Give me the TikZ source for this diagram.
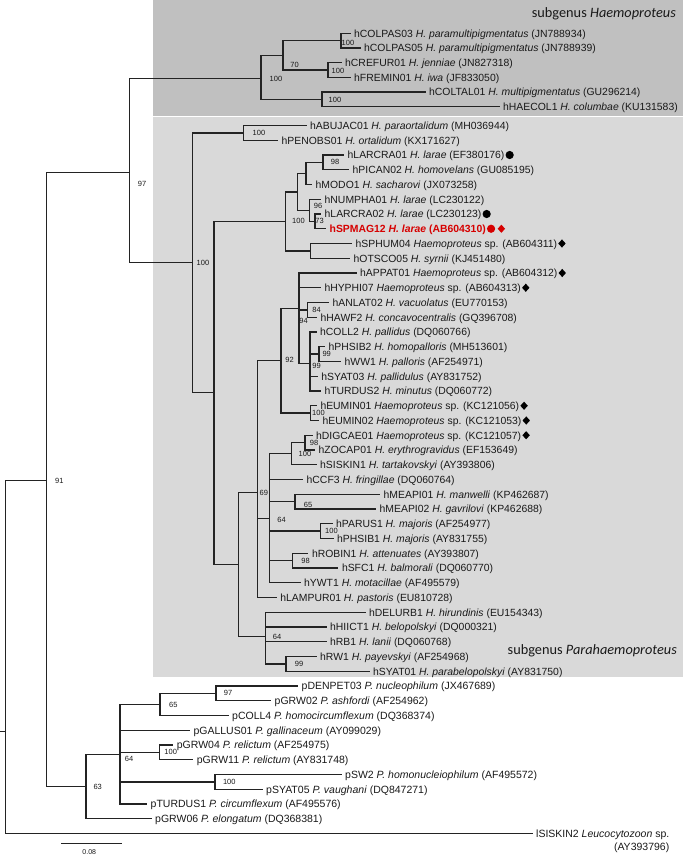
\documentclass[tikz,border=0pt]{standalone}
\usepackage{fontspec}
\setmainfont{Liberation Sans}
\newfontfamily\carlito{Carlito}
\usetikzlibrary{calc}
\definecolor{boxdark}{RGB}{192,192,192}
\definecolor{boxlight}{RGB}{217,217,217}
\definecolor{treeline}{RGB}{35,35,35}
\definecolor{labtext}{RGB}{25,25,25}
\definecolor{hlred}{RGB}{214,0,0}
\tikzset{
  leaf/.style={anchor=west, inner xsep=3.5pt, inner ysep=0pt, text height=7.5pt, text depth=0pt, font=\fontsize{10.4}{12}\selectfont, text=labtext},
  pleaf/.style={leaf, font=\fontsize{10.5}{12}\selectfont},
  bs/.style={inner sep=0pt, text height=5.4pt, text depth=0pt, font=\fontsize{7.5}{9}\selectfont, text=labtext},
  br/.style={draw=treeline, line width=1.3pt},
  bb/.style={draw=treeline, line width=1.0pt},
  subg/.style={font=\carlito\fontsize{14.3}{16}\selectfont, anchor=base east, inner sep=0pt, text=labtext},
}
\newcommand\dotm[3]{\fill[#1] ([xshift=#3]#2.east) circle (4.1);}
\newcommand\diam[3]{\fill[#1] ([xshift=#3]#2.east) +(0,-4.1) -- +(3.7,0) -- +(0,4.1) -- +(-3.7,0) -- cycle;}
\begin{document}
\begin{tikzpicture}[x=1pt,y=-1pt]
\useasboundingbox (0,0) rectangle (685,856);
% shaded boxes
\fill[boxdark] (153,0) rectangle (683,116);
\fill[boxlight] (153,117.3) rectangle (683,677);
\node[subg] (subH) at (676,18) {subgenus \textit{Haemoproteus}};
\node[subg] (subP) at (677,654) {subgenus \textit{Parahaemoproteus}};

% internal nodes
\coordinate (rootin) at (0,731);
\coordinate (root) at (5,731);
\coordinate (n91) at (46,480);
\coordinate (n97) at (129,172);
\coordinate (hroot) at (261,79);
\coordinate (h70) at (283,55.3);
\coordinate (hcolpas) at (341,40.6);
\coordinate (hcrefur) at (328,70);
\coordinate (hcoltal) at (322,99.4);
\coordinate (p100) at (192.3,262.8);
\coordinate (pabu) at (243.3,132.9);
\coordinate (x214) at (214,392.8);
\coordinate (l100) at (285.5,221.4);
\coordinate (n299) at (297.5,191.9);
\coordinate (nmodo) at (306,173.4);
\coordinate (n98a) at (323,162.4);
\coordinate (n96) at (309.5,210.3);
\coordinate (n73) at (315,221.4);
\coordinate (nsphum) at (310.7,250.9);
\coordinate (p238) at (238.3,564.2);
\coordinate (n257) at (257.3,492.2);
\coordinate (n92) at (281,360.8);
\coordinate (n94) at (299,308.5);
\coordinate (n84) at (307.3,309.9);
\coordinate (n99a) at (310,363.3);
\coordinate (n99b) at (319,354.1);
\coordinate (neumin) at (310.7,413.1);
\coordinate (n269) at (269.3,518.2);
\coordinate (nd100) at (291.5,453.7);
\coordinate (nd98) at (305,442.6);
\coordinate (nm65) at (295,501.6);
\coordinate (npa100) at (320.7,531.1);
\coordinate (nr98) at (292.3,560.6);
\coordinate (nd64) at (265.7,636.2);
\coordinate (nrw99) at (286,663.9);
\coordinate (p63) at (86,786.7);
\coordinate (p64) at (120,754.6);
\coordinate (p65) at (160,704.4);
\coordinate (p97) at (216,693.4);
\coordinate (pg100) at (159.3,752.4);
\coordinate (ps100) at (215,781.9);

% leaves: Haemoproteus
\node[leaf] (COLPAS03) at (350.5,33.3) {hCOLPAS03 \textit{H. paramultipigmentatus} (JN788934)};
\node[leaf] (COLPAS05) at (360.5,47.9) {hCOLPAS05 \textit{H. paramultipigmentatus} (JN788939)};
\node[leaf] (CREFUR01) at (341.5,62.6) {hCREFUR01 \textit{H. jenniae} (JN827318)};
\node[leaf] (FREMIN01) at (350.5,77.3) {hFREMIN01 \textit{H. iwa} (JF833050)};
\node[leaf] (COLTAL01) at (425.5,92.0) {hCOLTAL01 \textit{H. multipigmentatus} (GU296214)};
\node[leaf] (HAECOL1) at (499.5,106.7) {hHAECOL1 \textit{H. columbae} (KU131583)};
% leaves: Parahaemoproteus box
\node[leaf] (ABUJAC01) at (306.5,125.5) {hABUJAC01 \textit{H. paraortalidum} (MH036944)};
\node[leaf] (PENOBS01) at (278,140.25) {hPENOBS01 \textit{H. ortalidum} (KX171627)};
\node[leaf] (LARCRA01) at (344,155) {hLARCRA01 \textit{H. larae} (EF380176)};
\node[leaf] (PICAN02) at (349,169.75) {hPICAN02 \textit{H. homovelans} (GU085195)};
\node[leaf] (MODO1) at (312,184.5) {hMODO1 \textit{H. sacharovi} (JX073258)};
\node[leaf] (NUMPHA01) at (321,199.25) {hNUMPHA01 \textit{H. larae} (LC230122)};
\node[leaf] (LARCRA02) at (321,214) {hLARCRA02 \textit{H. larae} (LC230123)};
\node[leaf, text=hlred] (SPMAG12) at (326,228.75) {\bfseries hSPMAG12 \textit{H. larae} (AB604310)};
\node[leaf] (SPHUM04) at (352,243.5) {hSPHUM04 \textit{Haemoproteus} sp. (AB604311)};
\node[leaf] (OTSCO05) at (350,258.25) {hOTSCO05 \textit{H. syrnii} (KJ451480)};
\node[leaf] (APPAT01) at (356.5,273) {hAPPAT01 \textit{Haemoproteus} sp. (AB604312)};
\node[leaf] (HYPHI07) at (320.8,287.75) {hHYPHI07 \textit{Haemoproteus} sp. (AB604313)};
\node[leaf] (ANLAT02) at (329,302.5) {hANLAT02 \textit{H. vacuolatus} (EU770153)};
\node[leaf] (HAWF2) at (317,317.25) {hHAWF2 \textit{H. concavocentralis} (GQ396708)};
\node[leaf] (COLL2) at (316.5,332) {hCOLL2 \textit{H. pallidus} (DQ060766)};
\node[leaf] (PHSIB2) at (325,346.75) {hPHSIB2 \textit{H. homopalloris} (MH513601)};
\node[leaf] (WW1) at (341,361.5) {hWW1 \textit{H. palloris} (AF254971)};
\node[leaf] (SYAT03) at (317.7,376.25) {hSYAT03 \textit{H. pallidulus} (AY831752)};
\node[leaf] (TURDUS2) at (320.8,391) {hTURDUS2 \textit{H. minutus} (DQ060772)};
\node[leaf] (EUMIN01) at (316.8,405.75) {hEUMIN01 \textit{Haemoproteus} sp. (KC121056)};
\node[leaf] (EUMIN02) at (319,420.5) {hEUMIN02 \textit{Haemoproteus} sp. (KC121053)};
\node[leaf] (DIGCAE01) at (312.5,435.25) {hDIGCAE01 \textit{Haemoproteus} sp. (KC121057)};
\node[leaf] (ZOCAP01) at (315,450) {hZOCAP01 \textit{H. erythrogravidus} (EF153649)};
\node[leaf] (SISKIN1) at (316.5,464.75) {hSISKIN1 \textit{H. tartakovskyi} (AY393806)};
\node[leaf] (CCF3) at (303,479.5) {hCCF3 \textit{H. fringillae} (DQ060764)};
\node[leaf] (MEAPI01) at (380,494.25) {hMEAPI01 \textit{H. manwelli} (KP462687)};
\node[leaf] (MEAPI02) at (376,509) {hMEAPI02 \textit{H. gavrilovi} (KP462688)};
\node[leaf] (PARUS1) at (332.5,523.75) {hPARUS1 \textit{H. majoris} (AF254977)};
\node[leaf] (PHSIB1) at (333.5,538.5) {hPHSIB1 \textit{H. majoris} (AY831755)};
\node[leaf] (ROBIN1) at (308.3,553.25) {hROBIN1 \textit{H. attenuates} (AY393807)};
\node[leaf] (SFC1) at (338.3,568) {hSFC1 \textit{H. balmorali} (DQ060770)};
\node[leaf] (YWT1) at (300.5,582.75) {hYWT1 \textit{H. motacillae} (AF495579)};
\node[leaf] (LAMPUR01) at (276.7,597.5) {hLAMPUR01 \textit{H. pastoris} (EU810728)};
\node[leaf] (DELURB1) at (365.5,612.25) {hDELURB1 \textit{H. hirundinis} (EU154343)};
\node[leaf] (HIICT1) at (326.5,627) {hHIICT1 \textit{H. belopolskyi} (DQ000321)};
\node[leaf] (RB1) at (326.5,641.75) {hRB1 \textit{H. lanii} (DQ060768)};
\node[leaf] (RW1) at (316.5,656.5) {hRW1 \textit{H. payevskyi} (AF254968)};
\node[leaf] (SYAT01) at (369.5,671.25) {hSYAT01 \textit{H. parabelopolskyi} (AY831750)};
% leaves: Plasmodium and outgroup
\node[pleaf] (DENPET03) at (298,686) {pDENPET03 \textit{P. nucleophilum} (JX467689)};
\node[pleaf] (GRW02) at (271,700.75) {pGRW02 \textit{P. ashfordi} (AF254962)};
\node[pleaf] (COLL4) at (228.5,715.5) {pCOLL4 \textit{P. homocircumflexum} (DQ368374)};
\node[pleaf] (GALLUS01) at (189.8,730.25) {pGALLUS01 \textit{P. gallinaceum} (AY099029)};
\node[pleaf] (GRW04) at (173.2,745) {pGRW04 \textit{P. relictum} (AF254975)};
\node[pleaf] (GRW11) at (193.2,759.75) {pGRW11 \textit{P. relictum} (AY831748)};
\node[pleaf] (SW2) at (341.5,774.5) {pSW2 \textit{P. homonucleiophilum} (AF495572)};
\node[pleaf] (SYAT05) at (262.5,789.25) {pSYAT05 \textit{P. vaughani} (DQ847271)};
\node[pleaf] (TURDUS1) at (147,804) {pTURDUS1 \textit{P. circumflexum} (AF495576)};
\node[pleaf] (GRW06) at (151.5,818.75) {pGRW06 \textit{P. elongatum} (DQ368381)};
\node[pleaf] (SISKIN2) at (532.5,833.5) {lSISKIN2 \textit{Leucocytozoon} sp.};
\node[pleaf, anchor=east] (SISKIN2b) at ([yshift=-13.5pt]SISKIN2.east) {(AY393796)};

% markers
\dotm{black}{LARCRA01}{1.6pt}
\dotm{black}{LARCRA02}{1.6pt}
\dotm{hlred}{SPMAG12}{1.6pt}
\diam{hlred}{SPMAG12}{11.9pt}
\diam{black}{SPHUM04}{1.2pt}
\diam{black}{APPAT01}{1.2pt}
\diam{black}{HYPHI07}{1.2pt}
\diam{black}{EUMIN01}{1.2pt}
\diam{black}{EUMIN02}{1.2pt}
\diam{black}{DIGCAE01}{1.2pt}

% backbone branches (one path)
\draw[bb] (rootin) -- (root)
  \foreach \p/\c in {root/n91, root/SISKIN2.west, n91/n97, n91/p63, n97/hroot, n97/p100}
  { (\p) |- (\c) };
% clade branches (one path)
\draw[br] \foreach \p/\c in {hroot/h70, hroot/hcoltal, h70/hcolpas, h70/hcrefur,
  hcolpas/COLPAS03.west, hcolpas/COLPAS05.west, hcrefur/CREFUR01.west, hcrefur/FREMIN01.west,
  hcoltal/COLTAL01.west, hcoltal/HAECOL1.west,
  p100/pabu, p100/x214, pabu/ABUJAC01.west, pabu/PENOBS01.west,
  x214/l100, x214/p238, l100/n299, l100/nsphum, n299/nmodo, n299/n96,
  nmodo/n98a, nmodo/MODO1.west, n98a/LARCRA01.west, n98a/PICAN02.west,
  n96/NUMPHA01.west, n96/n73, n73/LARCRA02.west, n73/SPMAG12.west,
  nsphum/SPHUM04.west, nsphum/OTSCO05.west,
  p238/n257, p238/nd64, n257/n92, n257/n269, n257/LAMPUR01.west,
  n92/n94, n92/neumin, n94/APPAT01.west, n94/HYPHI07.west, n94/n84, n94/n99a,
  n84/ANLAT02.west, n84/HAWF2.west,
  n99a/COLL2.west, n99a/n99b, n99a/SYAT03.west, n99a/TURDUS2.west,
  n99b/PHSIB2.west, n99b/WW1.west, neumin/EUMIN01.west, neumin/EUMIN02.west,
  n269/nd100, n269/CCF3.west, n269/nm65, n269/npa100, n269/nr98, n269/YWT1.west,
  nd100/nd98, nd100/SISKIN1.west, nd98/DIGCAE01.west, nd98/ZOCAP01.west,
  nm65/MEAPI01.west, nm65/MEAPI02.west, npa100/PARUS1.west, npa100/PHSIB1.west,
  nr98/ROBIN1.west, nr98/SFC1.west,
  nd64/DELURB1.west, nd64/HIICT1.west, nd64/RB1.west, nd64/nrw99,
  nrw99/RW1.west, nrw99/SYAT01.west,
  p63/p64, p63/GRW06.west, p64/p65, p64/GALLUS01.west, p64/pg100, p64/ps100, p64/TURDUS1.west,
  p65/p97, p65/COLL4.west, p97/DENPET03.west, p97/GRW02.west,
  pg100/GRW04.west, pg100/GRW11.west, ps100/SW2.west, ps100/SYAT05.west}
  { (\p) |- (\c) };

% support values
\node[bs] (s_hroot) at (276,79) {100};
\node[bs] (s_h70) at (294.5,65) {70};
\node[bs] (s_colpas) at (348,42.5) {100};
\node[bs] (s_crefur) at (338,71) {100};
\node[bs] (s_coltal) at (335,100) {100};
\node[bs] (s97) at (142,184) {97};
\node[bs] (s91) at (59.3,481) {91};
\node[bs] (s_p100) at (203,262.5) {100};
\node[bs] (s_abu) at (259,132.7) {100};
\node[bs] (s98a) at (335,161.5) {98};
\node[bs] (s_l100) at (298.5,220.5) {100};
\node[bs] (s96) at (318,206) {96};
\node[bs] (s73) at (319.5,221) {73};
\node[bs] (s94) at (303.5,321) {94};
\node[bs] (s84) at (316.5,309.5) {84};
\node[bs] (s92) at (289.5,360) {92};
\node[bs] (s99b) at (326.7,353.3) {99};
\node[bs] (s99a) at (316.5,365.7) {99};
\node[bs] (s_eumin) at (318.5,412.8) {100};
\node[bs] (sd98) at (314,442.3) {98};
\node[bs] (sd100) at (305,453.5) {100};
\node[bs] (s69) at (263.8,493) {69};
\node[bs] (s64a) at (281.5,520) {64};
\node[bs] (sm65) at (308,505) {65};
\node[bs] (s_pa) at (331.5,530.5) {100};
\node[bs] (sr98) at (305.5,560.5) {98};
\node[bs] (sd64) at (277,637) {64};
\node[bs] (srw) at (299,664) {99};
\node[bs] (sp97) at (228,693) {97};
\node[bs] (sp65) at (173.3,704.3) {65};
\node[bs] (spg) at (170.7,752) {100};
\node[bs] (sp64) at (129,758.7) {64};
\node[bs] (sps) at (229.3,781.3) {100};
\node[bs] (s63) at (97.7,786.3) {63};

% scale bar
\coordinate (sbl) at (61,843);
\coordinate (sbr) at (122,843);
\draw[bb] (sbl) -- (sbr);
\node[bs, font=\fontsize{7}{8}\selectfont] (sblab) at (89.3,851.3) {0.08};
\end{tikzpicture}
\end{document}
